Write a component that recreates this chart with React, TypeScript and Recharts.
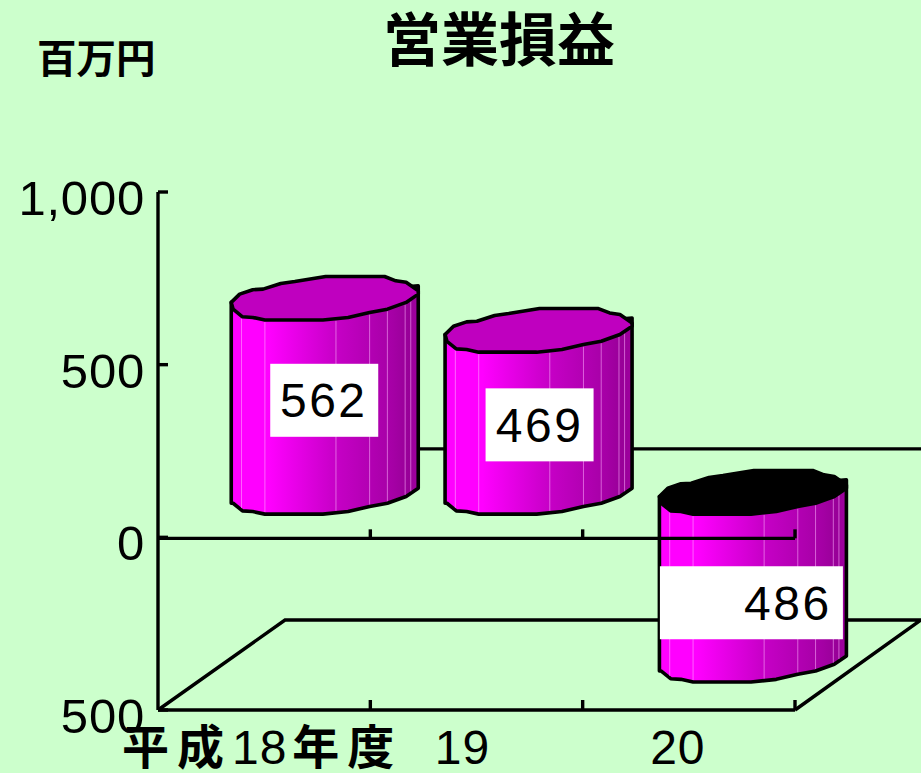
import React from "react";
import { BarChart, Bar, XAxis, YAxis, ReferenceLine } from "recharts";

// Operating result by fiscal year, in millions of yen
const categories = ["平成18年度", "19", "20"];
const operatingResult = [562, 469, -486];
const valueTicks = [-500, 0, 500, 1000];

const rows = categories.map((year, i) => ({ year, value: operatingResult[i] }));

const CHART_W = 921;
const CHART_H = 773;
const PLOT_LEFT = 158;
const PLOT_RIGHT = 795;
const PLOT_TOP = 192;
const PLOT_BOTTOM = 710;
const BAND = (PLOT_RIGHT - PLOT_LEFT) / categories.length;

// Perspective of the box the columns stand in
const DEPTH_X = 127;
const DEPTH_Y = 90;
const COLUMN_SHIFT_X = [60.5, 62, 64];
const COLUMN_SHIFT_Y = 45;
const RIM_RY = 21.8;

const INK = "#000000";
const LATIN = "'Liberation Sans', Arial, sans-serif";
const CJK = "'Noto Sans CJK JP', sans-serif";

// Faceted outline of the elliptical rim, as unit-circle-like coordinates
const rimBack: [number, number][] = [
  [-1, 0.19], [-0.91, -0.19], [-0.77, -0.39], [-0.66, -0.42], [-0.47, -0.68],
  [-0.32, -0.77], [0.01, -1], [0.64, -1], [0.76, -0.8], [0.87, -0.73], [1, -0.34],
];
const rimFront: [number, number][] = [
  [1, -0.19], [0.87, 0.19], [0.67, 0.5], [0.48, 0.65], [0.25, 0.88], [-0.02, 1],
  [-0.64, 1], [-0.77, 0.88], [-0.88, 0.85], [-0.98, 0.5],
];
const facetPositions = [-0.89, -0.64, 0.12, 0.48, 0.67, 0.86, 0.92];

// Value badge placement for each column: offsets from the column's centre
const badgeLayout = [
  { left: -54.5, right: 53.5, textDx: -1, dy: 5 },
  { left: -53, right: 55, textDx: 1, dy: 13.5 },
  { left: -93, right: 90, textDx: 35, dy: 26.5 },
];
const BADGE_H = 73;

const frontRimAt = (u: number) => {
  const pts = [...rimFront].reverse();
  for (let i = 0; i < pts.length - 1; i++) {
    if (u >= pts[i][0] && u <= pts[i + 1][0]) {
      const t = (u - pts[i][0]) / (pts[i + 1][0] - pts[i][0]);
      return pts[i][1] + t * (pts[i + 1][1] - pts[i][1]);
    }
  }
  return 0;
};

const Cylinder = (props: any) => {
  const { x, y, width, height, index, value } = props;
  const cx = x + width / 2 + COLUMN_SHIFT_X[index];
  const rx = width / 2;
  const upper = Math.min(y, y + height) - COLUMN_SHIFT_Y;
  const lower = Math.max(y, y + height) - COLUMN_SHIFT_Y;
  const at = (p: [number, number], cy: number) =>
    `${cx + p[0] * rx},${cy + p[1] * RIM_RY}`;

  const body = [
    at(rimBack[0], upper),
    at([1, -0.57], upper),
    ...rimFront.map((p) => at(p, lower)),
    at([-1, 0.5], lower),
  ].join(" ");
  const rim = [...rimBack, ...rimFront].map((p) => at(p, upper)).join(" ");

  const badge = badgeLayout[index];
  const badgeCy = (upper + lower) / 2 + badge.dy;
  const gradientId = `column-shade-${index}`;

  return (
    <g>
      <defs>
        <linearGradient id={gradientId} x1="0" x2="1" y1="0" y2="0">
          <stop offset="0" stopColor="#ff00ff" />
          <stop offset="0.2" stopColor="#ff00ff" />
          <stop offset="0.56" stopColor="#c600c6" />
          <stop offset="0.86" stopColor="#a600a6" />
          <stop offset="0.95" stopColor="#980098" />
          <stop offset="1" stopColor="#a000a0" />
        </linearGradient>
      </defs>
      <polygon points={body} fill={`url(#${gradientId})`} stroke={INK} strokeWidth={3.6} strokeLinejoin="round" />
      {facetPositions.map((u) => {
        const fx = cx + u * rx;
        return (
          <line
            key={u}
            x1={fx}
            x2={fx}
            y1={upper + frontRimAt(u) * RIM_RY + 2}
            y2={lower + frontRimAt(u) * RIM_RY - 2}
            stroke="#ffb0ff"
            strokeOpacity={0.55}
            strokeWidth={1}
          />
        );
      })}
      <polygon
        points={rim}
        fill={value < 0 ? INK : "#bf00bf"}
        stroke={INK}
        strokeWidth={3.6}
        strokeLinejoin="round"
      />
      <rect
        x={cx + badge.left}
        y={badgeCy - BADGE_H / 2}
        width={badge.right - badge.left}
        height={BADGE_H}
        fill="#ffffff"
      />
      <text
        x={cx + badge.textDx}
        y={badgeCy + 17}
        textAnchor="middle"
        fontFamily={LATIN}
        fontSize={48}
        letterSpacing={2.5}
        fill={INK}
      >
        {Math.abs(value).toLocaleString("en-US")}
      </text>
    </g>
  );
};

const ValueTick = (props: any) => {
  const { x, y, payload } = props;
  return (
    <g>
      <line x1={x} x2={x + 10} y1={y} y2={y} stroke={INK} strokeWidth={3.4} />
      <text
        x={x - 13}
        y={y + 23}
        textAnchor="end"
        fontFamily={LATIN}
        fontSize={49}
        letterSpacing={0.8}
        fill={INK}
      >
        {Math.abs(payload.value).toLocaleString("en-US")}
      </text>
    </g>
  );
};

const yearLabelShift = [-2, -14, -11];

const YearTick = (props: any) => {
  const { x, y, payload, index } = props;
  const tickX = x + BAND / 2;
  const parts = String(payload.value).match(/[0-9]+|[^0-9]+/g) ?? [];
  return (
    <g>
      <line x1={tickX} x2={tickX} y1={y} y2={y - 10} stroke={INK} strokeWidth={3.4} />
      <text
        x={x + yearLabelShift[index]}
        y={y + 53.5}
        textAnchor="middle"
        fill={INK}
      >
        {parts.map((part, i) =>
          /[0-9]/.test(part) ? (
            <tspan key={i} fontFamily={LATIN} fontSize={48} letterSpacing={1}>{part}</tspan>
          ) : (
            <tspan key={i} dx={i > 0 ? 5 : 0} fontFamily={CJK} fontSize={47} fontWeight={700} letterSpacing={8}>{part}</tspan>
          ),
        )}
      </text>
    </g>
  );
};

// Floor of the box: front edge comes from the axis, the rest recedes
const FloorShape = (props: any) => {
  const { x1, x2, y1 } = props;
  const points = [
    [x1, y1],
    [x1 + DEPTH_X, y1 - DEPTH_Y],
    [x2 + DEPTH_X - 1, y1 - DEPTH_Y],
    [x2, y1],
  ]
    .map((p) => p.join(","))
    .join(" ");
  return <polyline points={points} fill="none" stroke={INK} strokeWidth={3.4} />;
};

// Back edge of the zero plane, passing behind the columns
const ZeroBackEdge = (props: any) => {
  const { x1, x2, y1 } = props;
  return (
    <line
      x1={x1 + DEPTH_X}
      x2={x2 + DEPTH_X}
      y1={y1 - DEPTH_Y + 1.5}
      y2={y1 - DEPTH_Y + 1.5}
      stroke={INK}
      strokeWidth={3.4}
    />
  );
};

// Front edge of the zero plane with its tick marks, drawn over the columns
const ZeroFrontEdge = (props: any) => {
  const { x1, x2, y1 } = props;
  return (
    <g>
      <line x1={x1} x2={x2} y1={y1 + 1} y2={y1 + 1} stroke={INK} strokeWidth={3.4} />
      {categories.map((_, i) => {
        const tx = x1 + (i + 1) * BAND;
        return <line key={i} x1={tx} x2={tx} y1={y1 + 1} y2={y1 - 8} stroke={INK} strokeWidth={3.4} />;
      })}
    </g>
  );
};

export default function App() {
  return (
    <div
      style={{
        position: "absolute",
        left: 0,
        top: 0,
        width: CHART_W,
        height: CHART_H,
        background: "#ccffcc",
        overflow: "hidden",
      }}
    >
      <div
        style={{
          position: "absolute",
          left: 383,
          top: 6,
          fontFamily: CJK,
          fontWeight: 700,
          fontSize: 58,
          lineHeight: "60px",
          color: INK,
          whiteSpace: "nowrap",
        }}
      >
        営業損益
      </div>
      <div
        style={{
          position: "absolute",
          left: 37,
          top: 29,
          fontFamily: CJK,
          fontWeight: 700,
          fontSize: 39.5,
          lineHeight: "54px",
          color: INK,
          whiteSpace: "nowrap",
        }}
      >
        百万円
      </div>
      <BarChart
        width={CHART_W}
        height={CHART_H}
        data={rows}
        margin={{ top: PLOT_TOP, right: CHART_W - PLOT_RIGHT, bottom: 0, left: 0 }}
        barCategoryGap="6%"
        style={{ position: "absolute", left: 0, top: 0 }}
      >
        <XAxis
          dataKey="year"
          height={CHART_H - PLOT_BOTTOM}
          interval={0}
          axisLine={{ stroke: INK, strokeWidth: 3.4 }}
          tickLine={false}
          tickSize={0}
          tickMargin={0}
          tick={<YearTick />}
        />
        <YAxis
          width={PLOT_LEFT}
          domain={[-500, 1000]}
          ticks={valueTicks}
          interval={0}
          axisLine={{ stroke: INK, strokeWidth: 3.4 }}
          tickLine={false}
          tickSize={0}
          tickMargin={0}
          tick={<ValueTick />}
        />
        <ReferenceLine y={-500} shape={<FloorShape />} ifOverflow="visible" zIndex={100} />
        <ReferenceLine y={0} shape={<ZeroBackEdge />} ifOverflow="visible" zIndex={100} />
        <Bar dataKey="value" shape={<Cylinder />} isAnimationActive={false} zIndex={300} />
        <ReferenceLine y={0} shape={<ZeroFrontEdge />} ifOverflow="visible" zIndex={500} />
      </BarChart>
    </div>
  );
}
